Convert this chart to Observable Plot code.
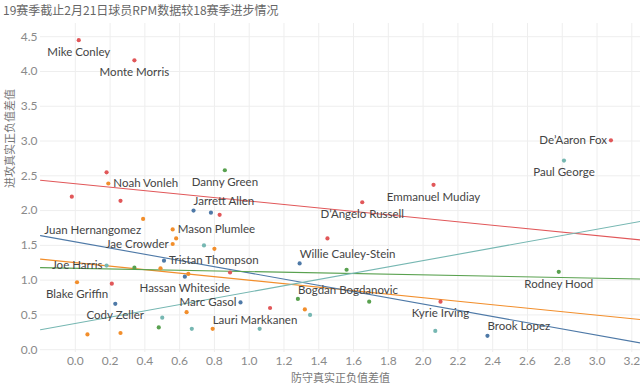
<!DOCTYPE html>
<html><head><meta charset="utf-8">
<script src="https://cdn.jsdelivr.net/npm/d3@7"></script>
<script src="https://cdn.jsdelivr.net/npm/@observablehq/plot@0.6"></script>
<style>
body{margin:0;background:#fff;width:640px;height:390px;overflow:hidden;}
#title{font-family:"Noto Sans CJK SC",sans-serif;font-size:12px;color:#666;height:20px;line-height:20px;padding-left:3px;white-space:nowrap;}
</style></head><body>
<div id="title">19赛季截止2月21日球员RPM数据较18赛季进步情况</div>
<div id="chart"></div>
<script>
// ---- data ----
const groupNames = ["组1", "组2", "组3", "组4", "组5"];
const palette = ["#e15759", "#f28e2b", "#4e79a7", "#59a14f", "#76b7b2"];

const players = [
  "Mike Conley","Monte Morris","De’Aaron Fox","Emmanuel Mudiay","D’Angelo Russell","","","","","","","","","Kyrie Irving",
  "Noah Vonleh","Juan Hernangomez","Mason Plumlee","","Jae Crowder","","","Blake Griffin","","","","Lauri Markkanen","","",
  "Jarrett Allen","","Tristan Thompson","Hassan Whiteside","Willie Cauley-Stein","Cody Zeller","Marc Gasol","Brook Lopez",
  "Danny Green","","Rodney Hood","Bogdan Bogdanovic","","","",
  "Paul George","","Joe Harris","","","","",""
];
const defenseDiff = [
  0.02,0.34,3.08,2.06,1.65,1.45,0.18,-0.02,0.26,0.83,0.89,0.21,1.12,2.10,
  0.19,0.39,0.56,0.58,0.56,0.80,0.65,0.01,0.07,0.26,0.64,0.79,1.32,0.49,
  0.68,0.78,0.51,0.63,1.29,0.23,0.95,2.37,
  0.86,1.56,2.78,1.28,1.69,0.48,0.34,
  2.81,0.74,0.18,0.50,0.67,1.06,1.35,2.07
];
const offenseDiff = [
  4.45,4.16,3.01,2.37,2.12,1.60,2.55,2.20,2.14,1.94,1.11,0.95,0.60,0.69,
  2.39,1.88,1.73,1.60,1.52,1.45,1.09,0.97,0.22,0.24,0.54,0.30,0.58,1.17,
  2.00,1.97,1.28,1.05,1.24,0.66,0.68,0.20,
  2.58,1.15,1.12,0.73,0.69,0.32,1.18,
  2.72,1.50,1.21,0.46,0.30,0.30,0.50,0.27
];
const group = [
  ...Array(14).fill("组1"),
  ...Array(14).fill("组2"),
  ...Array(8).fill("组3"),
  ...Array(7).fill("组4"),
  ...Array(8).fill("组5")
];
const xTicks = [0,0.2,0.4,0.6,0.8,1.0,1.2,1.4,1.6,1.8,2.0,2.2,2.4,2.6,2.8,3.0,3.2];
const yTicks = [0,0.5,1.0,1.5,2.0,2.5,3.0,3.5,4.0,4.5];
const xLabel = "防守真实正负值差值";
const yLabel = "进攻真实正负值差值";

// ---- label placement (style, not data) ----
const placeBelow = new Set(["Mike Conley","Monte Morris","Paul George","Emmanuel Mudiay","D’Angelo Russell","Danny Green","Blake Griffin","Hassan Whiteside","Cody Zeller","Kyrie Irving","Rodney Hood"]);
const placeLeft = new Set(["De’Aaron Fox","Jae Crowder","Joe Harris","Marc Gasol"]);
const placeRight = new Set(["Noah Vonleh","Mason Plumlee","Tristan Thompson"]);
const placeAboveRight = new Set(["Jarrett Allen","Willie Cauley-Stein","Bogdan Bogdanovic","Lauri Markkanen","Brook Lopez"]);
const placeBelowLeft = new Set(["Juan Hernangomez"]);

const points = players.map((name, i) => ({name, x: defenseDiff[i], y: offenseDiff[i], g: group[i]}));

const xDomain = [-0.2, 3.25];
// linear trend per colour group, spanning the full x axis
const trend = [];
for (const g of groupNames) {
  const pts = points.filter(p => p.g === g);
  const mx = d3.mean(pts, p => p.x), my = d3.mean(pts, p => p.y);
  const slope = d3.sum(pts, p => (p.x - mx) * (p.y - my)) / d3.sum(pts, p => (p.x - mx) ** 2);
  for (const x of xDomain) trend.push({g, x, y: my + slope * (x - mx)});
}

const labelFont = {fontFamily: "Lato, sans-serif", fontSize: 11.5, fill: "#444"};
const sel = s => points.filter(p => s.has(p.name));

const chart = Plot.plot({
  width: 640, height: 370,
  marginLeft: 40, marginRight: 0, marginTop: 3, marginBottom: 38,
  style: {fontFamily: "Lato, sans-serif", fontSize: "12px", background: "#fff"},
  x: {domain: xDomain},
  y: {domain: [-0.04, 4.69]},
  color: {domain: groupNames, range: palette},
  marks: [
    Plot.gridX(xTicks, {stroke: "#eeeeee", strokeOpacity: 1}),
    Plot.gridY(yTicks, {stroke: "#eeeeee", strokeOpacity: 1}),
    Plot.axisX(xTicks, {tickSize: 0, tickPadding: 4, tickFormat: d3.format(".1f"), fill: "#8a8a8a", fontSize: 12, label: null}),
    Plot.axisY(yTicks, {tickSize: 0, tickPadding: 3, tickFormat: d3.format(".1f"), fill: "#8a8a8a", fontSize: 12, label: null}),
    Plot.line(trend, {x: "x", y: "y", z: "g", stroke: "g", strokeWidth: 1.1}),
    Plot.dot(points, {x: "x", y: "y", fill: "g", r: 2.1}),
    Plot.text(sel(placeBelow), {x: "x", y: "y", text: "name", dy: 12, ...labelFont}),
    Plot.text(sel(placeLeft), {x: "x", y: "y", text: "name", dx: -4, textAnchor: "end", ...labelFont}),
    Plot.text(sel(placeRight), {x: "x", y: "y", text: "name", dx: 5, textAnchor: "start", ...labelFont}),
    Plot.text(sel(placeAboveRight), {x: "x", y: "y", text: "name", dx: 0, dy: -9, textAnchor: "start", ...labelFont}),
    Plot.text(sel(placeBelowLeft), {x: "x", y: "y", text: "name", dx: -2, dy: 11, textAnchor: "end", ...labelFont}),
    Plot.text([xLabel], {frameAnchor: "bottom", dy: 29, fontFamily: "Noto Sans CJK SC, sans-serif", fontSize: 11, fill: "#777"}),
    Plot.text([yLabel], {frameAnchor: "left", dx: -30, rotate: -90, fontFamily: "Noto Sans CJK SC, sans-serif", fontSize: 11, fill: "#777"})
  ]
});
document.getElementById("chart").appendChild(chart);
</script>
</body></html>
